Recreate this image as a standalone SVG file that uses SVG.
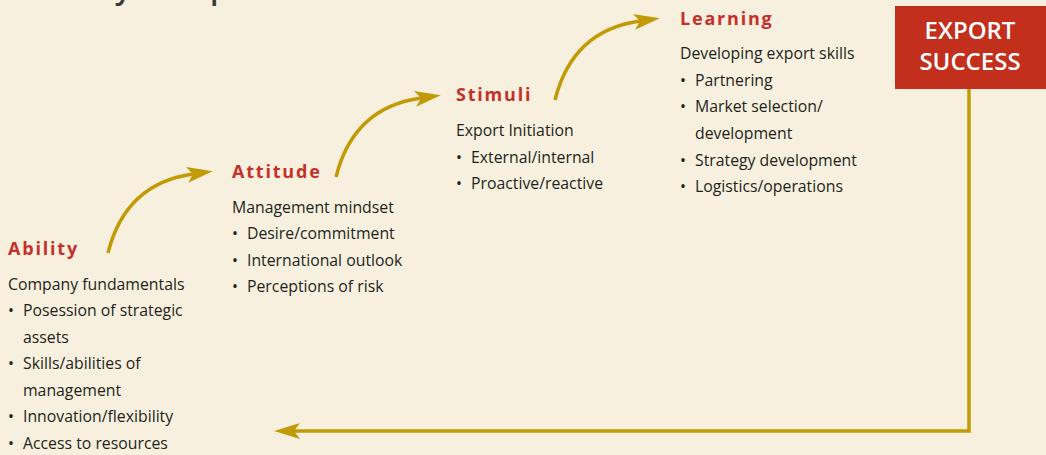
<svg xmlns="http://www.w3.org/2000/svg" width="1046" height="455" viewBox="0 0 1046 455">
<style>
.t{font-family:"Open Sans","Noto Sans",sans-serif;font-size:15.8px;fill:#231f20}
.h{font-family:"Open Sans","Noto Sans",sans-serif;font-size:18px;font-weight:bold;fill:#c4302b;letter-spacing:1.8px}
.b{font-family:"Open Sans","Noto Sans",sans-serif;font-size:24px;font-weight:600;fill:#ffffff;text-anchor:middle}
.c{fill:none;stroke:#c19a06;stroke-width:3.5}
</style>
<defs>
<marker id="ah" markerUnits="userSpaceOnUse" markerWidth="30" markerHeight="18" refX="6" refY="8" orient="auto" overflow="visible">
<path d="M0,0 L26,8 L0,16 L6,8 Z" fill="#c19a06"/>
</marker>
</defs>
<rect width="1046" height="455" fill="#f7f0de"/>
<text x="6" y="-1" style="font-family:'Open Sans','Noto Sans',sans-serif;font-size:30px;font-weight:600;fill:#3a3a3a">Stairway to Export Success</text>
<g id="connectors">
<path class="c" d="M108,253 C120,205 150,180 193,174" marker-end="url(#ah)"/>
<path class="c" d="M336,177 C348,129 378,104 421,98" marker-end="url(#ah)"/>
<path class="c" d="M555,100 C567,52 597,27 640,21" marker-end="url(#ah)"/>
<path class="c" d="M969,89 V431 H294" marker-end="url(#ah)"/>
</g>
<g id="ability">
<text class="h" x="8" y="255">Ability</text>
<text class="t" x="8" y="290">Company fundamentals</text>
<text class="t" x="8" y="316">•</text><text class="t" x="23" y="316">Posession of strategic</text>
<text class="t" x="23" y="343">assets</text>
<text class="t" x="8" y="369">•</text><text class="t" x="23" y="369">Skills/abilities of</text>
<text class="t" x="23" y="396">management</text>
<text class="t" x="8" y="422">•</text><text class="t" x="23" y="422">Innovation/flexibility</text>
<text class="t" x="8" y="449">•</text><text class="t" x="23" y="449">Access to resources</text>
</g>
<g id="attitude">
<text class="h" x="232" y="178">Attitude</text>
<text class="t" x="232" y="213">Management mindset</text>
<text class="t" x="232" y="239">•</text><text class="t" x="247" y="239">Desire/commitment</text>
<text class="t" x="232" y="266">•</text><text class="t" x="247" y="266">International outlook</text>
<text class="t" x="232" y="292">•</text><text class="t" x="247" y="292">Perceptions of risk</text>
</g>
<g id="stimuli">
<text class="h" x="456" y="101">Stimuli</text>
<text class="t" x="456" y="136">Export Initiation</text>
<text class="t" x="456" y="163">•</text><text class="t" x="471" y="163">External/internal</text>
<text class="t" x="456" y="189">•</text><text class="t" x="471" y="189">Proactive/reactive</text>
</g>
<g id="learning">
<text class="h" x="680" y="25">Learning</text>
<text class="t" x="680" y="59">Developing export skills</text>
<text class="t" x="680" y="86">•</text><text class="t" x="695" y="86">Partnering</text>
<text class="t" x="680" y="112">•</text><text class="t" x="695" y="112">Market selection/</text>
<text class="t" x="695" y="139">development</text>
<text class="t" x="680" y="166">•</text><text class="t" x="695" y="166">Strategy development</text>
<text class="t" x="680" y="192">•</text><text class="t" x="695" y="192">Logistics/operations</text>
</g>
<g id="export-success">
<rect x="895" y="6" width="151" height="83" fill="#c2301d"/>
<text class="b" x="970" y="39">EXPORT</text>
<text class="b" x="970" y="70">SUCCESS</text>
</g>
</svg>
